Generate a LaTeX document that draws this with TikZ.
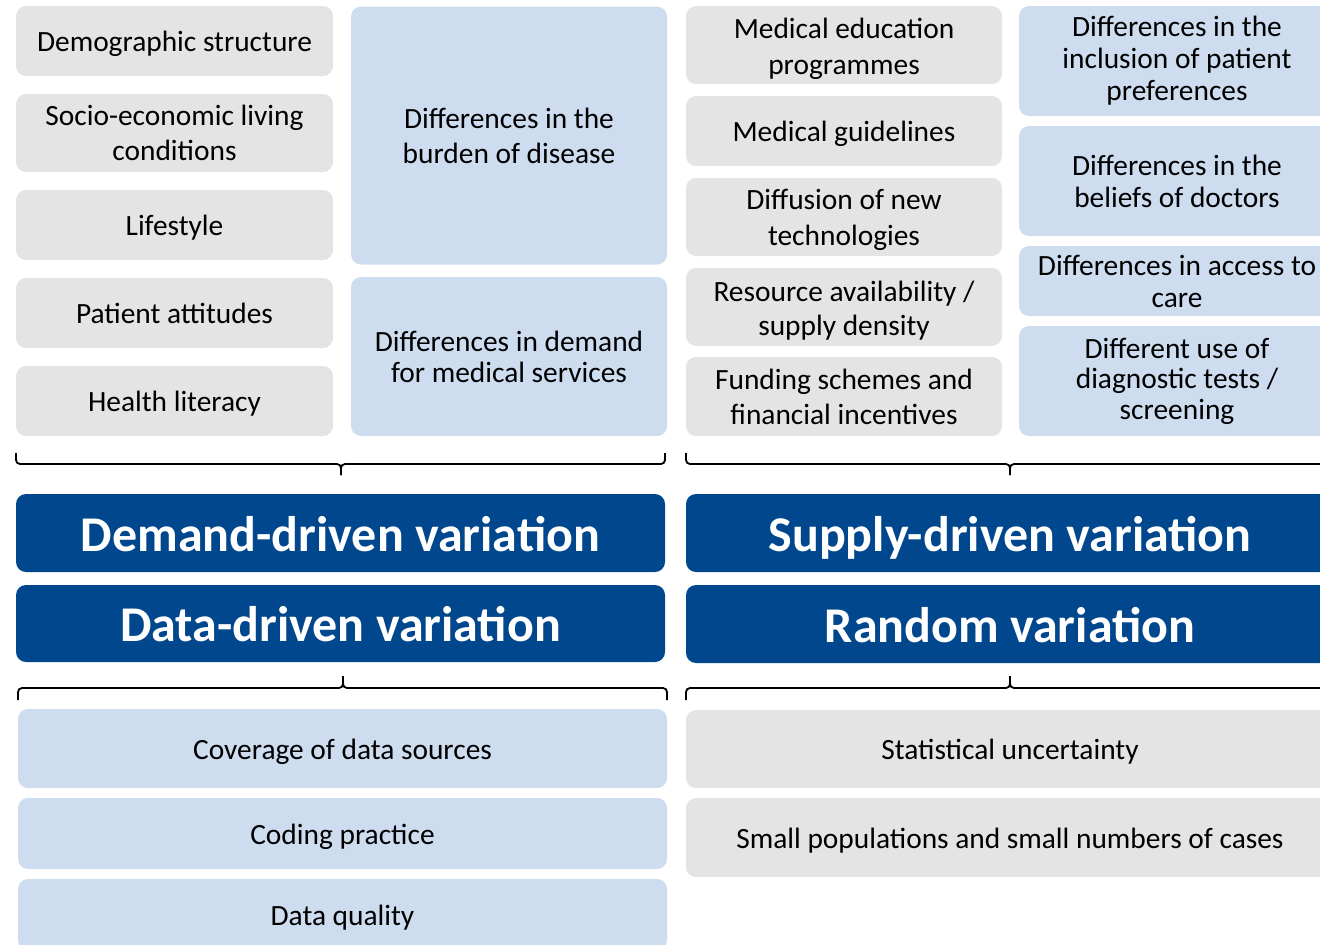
\documentclass[tikz,border=0pt]{standalone}
\usepackage{fontspec}
\setmainfont{Carlito}
\definecolor{gbox}{HTML}{E4E4E4}
\definecolor{lbox}{HTML}{CDDDEF}
\definecolor{dbox}{HTML}{00478D}
\newcommand\mybrace[6]{%
  \draw[brc] (#1,#4) -- (#1,#5) -- (#3,#5) -- (#3,#6);
  \draw[brc] (#3,#6) -- (#3,#5) -- (#2,#5) -- (#2,#4);}
\newcommand\tstrut[1]{\rule{0pt}{#1pt}}
\begin{document}
\begin{tikzpicture}[x=1pt,y=-1pt,
  box/.style={rounded corners=10pt, inner sep=0pt, align=center,
    font=\fontsize{29.4}{35}\selectfont, text=black},
  sl/.style={execute at begin node={\rule{0pt}{0.97em}},
    execute at end node={\rule[-0.25em]{0pt}{0pt}}},
  graybox/.style={box, fill=gbox},
  bluebox/.style={box, fill=lbox},
  darkbox/.style={box, sl, fill=dbox, text=white, font=\fontsize{50}{58}\selectfont\bfseries},
  brc/.style={draw=black, line width=1.8pt, rounded corners=4pt},
  ls/.style={font=\fontsize{29.4}{#1}\selectfont}]
\useasboundingbox (0,0) rectangle (1320,945);
\clip (0,0) rectangle (1320,945);
% column 1
\node[graybox, sl, minimum width=317, minimum height=70] (n1) at (174.5,41) {Demographic structure};
\node[graybox, minimum width=317, minimum height=78] (n2) at (174.5,133) {Socio-economic living\\conditions};
\node[graybox, sl, minimum width=317, minimum height=70] (n3) at (174.5,225) {Lifestyle};
\node[graybox, sl, minimum width=317, minimum height=70] (n4) at (174.5,313) {Patient attitudes};
\node[graybox, sl, minimum width=317, minimum height=70] (n5) at (174.5,401) {Health literacy};
% column 2
\node[bluebox, minimum width=316, minimum height=258] (b1) at (509,135.5) {Differences in the\\burden of disease};
\node[bluebox, ls=31, minimum width=316, minimum height=159] (b2) at (509,356.5) {Differences in demand\\for medical services};
% column 3
\node[graybox, ls=36, minimum width=316, minimum height=78] (m1) at (844,45) {\tstrut{28}Medical education\\programmes};
\node[graybox, sl, minimum width=316, minimum height=70] (m2) at (844,131) {Medical guidelines};
\node[graybox, ls=36, minimum width=316, minimum height=78] (m3) at (844,217) {\tstrut{27}Diffusion of new\\technologies};
\node[graybox, ls=34, minimum width=316, minimum height=78] (m4) at (844,307) {\tstrut{28}Resource availability /\\supply density};
\node[graybox, ls=35, minimum width=316, minimum height=79] (m5) at (844,396.5) {Funding schemes and\\financial incentives};
% column 4
\node[bluebox, ls=32, minimum width=316, minimum height=110] (d1) at (1177,61) {Differences in the\\inclusion of patient\\preferences};
\node[bluebox, ls=32, minimum width=316, minimum height=110] (d2) at (1177,181) {Differences in the\\beliefs of doctors};
\node[bluebox, ls=32, minimum width=316, minimum height=70] (d3) at (1177,281) {Differences in access to\\care};
\node[bluebox, ls=30.5, minimum width=316, minimum height=110] (d4) at (1177,381) {Different use of\\diagnostic tests /\\screening};
% top braces
\mybrace{16}{665}{341}{453}{464}{475}
\mybrace{686}{1334}{1010}{453}{464}{475}
% dark boxes
\node[darkbox, minimum width=649, minimum height=78] (D1) at (340.5,533) {Demand-driven variation};
\node[darkbox, minimum width=648, minimum height=78] (D2) at (1010,533) {Supply-driven variation};
\node[darkbox, minimum width=649, minimum height=77] (D3) at (340.5,623.5) {Data-driven variation};
\node[darkbox, minimum width=648, minimum height=78] (D4) at (1010,624) {Random variation};
% bottom braces
\mybrace{18}{667}{343}{700}{688}{676}
\mybrace{686}{1334}{1010}{700}{688}{676}
% bottom boxes
\node[bluebox, sl, minimum width=649, minimum height=79] (c1) at (342.5,748.5) {Coverage of data sources};
\node[bluebox, sl, minimum width=649, minimum height=71] (c2) at (342.5,833.5) {Coding practice};
\node[bluebox, sl, minimum width=649, minimum height=71] (c3) at (342.5,914.5) {Data quality};
\node[graybox, sl, minimum width=648, minimum height=78] (s1) at (1010,749) {Statistical uncertainty};
\node[graybox, sl, minimum width=648, minimum height=79] (s2) at (1010,837.5) {Small populations and small numbers of cases};
\end{tikzpicture}
\end{document}
